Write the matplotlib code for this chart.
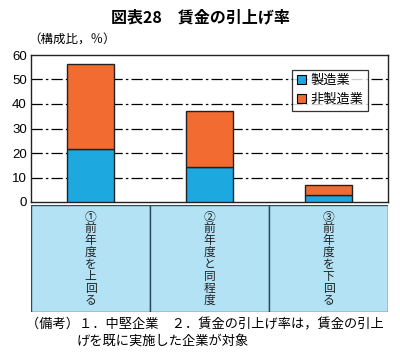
import matplotlib
matplotlib.use("Agg")
import matplotlib.pyplot as plt
from matplotlib.patches import Rectangle
import numpy as np

plt.rcParams['font.family'] = ['Noto Sans CJK JP', 'DejaVu Sans']

categories = ["①前年度を上回る", "②前年度と同程度", "③前年度を下回る"]
series_names = ["製造業", "非製造業"]
manufacturing = [21.5, 14.2, 2.7]
non_manufacturing = [34.7, 22.9, 4.1]
yticks = [0, 10, 20, 30, 40, 50, 60]

blue = "#1ea8e0"
orange = "#f26b30"
table_fill = "#b3e2f5"
table_edge = "#2b4a5a"

fig = plt.figure(figsize=(4.0, 3.55), dpi=100)
ax = fig.add_axes([31/400, 1-202/355, (388-31)/400, (202-55)/355])

x = np.arange(len(categories))
w = 0.395
ax.bar(x, manufacturing, w, color=blue, edgecolor="#222222", linewidth=1.0, zorder=3, label=series_names[0])
ax.bar(x, non_manufacturing, w, bottom=manufacturing, color=orange, edgecolor="#222222", linewidth=1.0, zorder=3, label=series_names[1])

ax.set_xlim(-0.5, 2.5)
ax.set_ylim(0, 60)
ax.set_yticks(yticks)
ax.set_yticklabels([str(v) for v in yticks], fontfamily='Liberation Sans', fontsize=9.5)
ax.set_xticks([])
ax.tick_params(axis='y', length=0, pad=3)
for v in yticks[1:-1]:
    ax.axhline(v, color="black", linewidth=0.9, dashes=(9, 2.5, 2, 2.5), zorder=1)
for s in ax.spines.values():
    s.set_linewidth(1.0)
    s.set_color("#222222")

handles = [Rectangle((0, 0), 1, 1, facecolor=blue, edgecolor="black", linewidth=0.8),
           Rectangle((0, 0), 1, 1, facecolor=orange, edgecolor="black", linewidth=0.8)]
leg = ax.legend(handles, series_names, loc="upper right", bbox_to_anchor=(0.962, 0.945),
                fontsize=9.5, frameon=True, fancybox=False, handlelength=0.7, handleheight=0.7,
                handletextpad=0.3, borderpad=0.35, labelspacing=0.45, edgecolor="black")
leg.get_frame().set_linewidth(0.9)
leg.set_zorder(5)

# table axis
tax = fig.add_axes([31/400, 1-312/355, (388-31)/400, (312-205)/355])
tax.set_xlim(-0.5, 2.5)
tax.set_ylim(0, 1)
tax.axis('off')
for i, cat in enumerate(categories):
    tax.add_patch(Rectangle((i-0.5, 0), 1, 1, facecolor=table_fill, edgecolor=table_edge, linewidth=1.0))
    n = len(cat)
    y0, y1 = (312-217)/107, (312-300)/107
    for k, ch in enumerate(cat):
        yy = y0 + (y1 - y0) * k / (n - 1)
        tax.text(i, yy, ch, ha="center", va="center", fontsize=8.5, color="#222222")

fig.text(0.5, 1-17/355, "図表28　賃金の引上げ率", ha="center", va="center", fontsize=11.5, fontweight="bold")
fig.text(28/400, 1-40/355, "（構成比，％）", ha="left", va="center", fontsize=9)
fig.text(26/400, 1-325/355, "（備考）１．中堅企業　２．賃金の引上げ率は，賃金の引上", ha="left", va="center", fontsize=9.5)
fig.text(77/400, 1-341/355, "げを既に実施した企業が対象", ha="left", va="center", fontsize=9.5)

fig.savefig("out.png", dpi=100)
